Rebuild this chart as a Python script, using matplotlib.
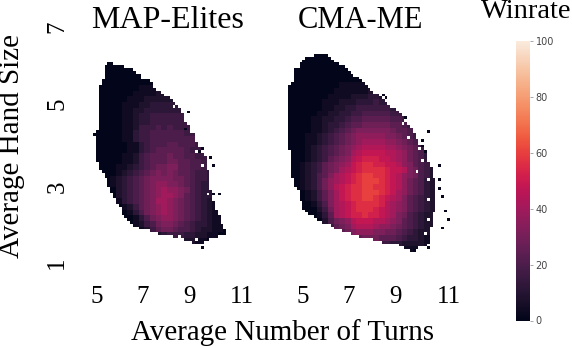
import numpy as np
import matplotlib
matplotlib.use('Agg')
import matplotlib.pyplot as plt
import seaborn as sns

# filled cells per row (first col, end col)
map_left = [5,4,4,4,4,4,3,3,2,2,2,2,2,2,2,2,2,2,2,2,2,2,2,2,1,0,1,1,1,1,1,1,1,1,1,2,2,2,3,4,4,5,5,5,6,6,7,7,8,8,9,9,10,10,11,12,13,14,16,20,23,28,32,35]
map_right = [7,11,14,15,17,17,20,21,21,22,24,25,27,28,29,30,31,31,32,32,32,33,34,34,34,36,36,36,37,37,38,38,39,40,40,40,40,40,41,41,41,41,41,41,41,42,42,42,42,43,43,43,44,44,45,45,45,46,46,47,47,44,41,39]
cma_left = [9,6,5,4,4,2,2,2,2,2,1,0,0,0,0,0,0,0,0,0,0,0,0,0,0,0,0,0,0,0,0,0,0,0,1,1,1,1,1,1,1,1,1,1,2,2,2,3,4,4,4,4,5,5,5,6,7,9,10,12,15,16,19,22,25,30,33,39,41,43]
cma_right = [14,15,16,18,20,21,22,23,25,26,27,28,29,30,32,33,34,35,36,38,39,40,41,41,42,43,44,44,45,45,46,46,47,48,48,49,49,49,50,50,51,51,51,51,52,52,52,52,52,52,52,52,52,52,52,52,51,51,51,51,51,50,50,50,50,50,50,49,46,44]

# isolated cells outside the main blob, and gaps inside it (row, col)
map_strays = [(17,33),(23,32),(31,37),(30,38),(33,41),(36,42),(46,44),(46,42),(60,46),(62,40),(65,38)]
map_holes = [(15,28),(31,36),(36,38),(46,40),(51,9),(60,22),(62,36),(61,30)]
cma_strays = [(15,34),(14,33),(22,41),(27,49),(30,47),(32,47),(34,48),(39,53),(44,53),(47,53),(50,54),(55,55),(58,56),(61,54),(68,49),(69,44)]
cma_holes = [(24,40),(29,42),(33,46),(37,47),(41,45),(44,49),(51,49),(58,49),(63,48),(66,31),(65,24)]

# winrate in steps of 4 (hex digit), one char per 2x2 block of cells
map_levels = [
    "000000000000000000000000",
    "000000000000000000000000",
    "000000000000000000000000",
    "000000000001000000000000",
    "000000001111110000000000",
    "000000011112221100000000",
    "000000111222222211000000",
    "000001112233333221100000",
    "000001122333333322110000",
    "000001123344444433211000",
    "000001123344444443321000",
    "000001124445454444322000",
    "000001134455555544432000",
    "000001134455555555432100",
    "000000113455566555433210",
    "000000113456666654443210",
    "000001124566676655443210",
    "000001124566677665543210",
    "000011234567788665543210",
    "000012345678787665443210",
    "000123456788887765443210",
    "000123456789988765433210",
    "000023456789a99875433210",
    "000023456789aa9865433210",
    "00001345678aa98765432100",
    "000001246789a98765432100",
    "000000135789a98765432100",
    "000000013578998765432110",
    "000000012457887654332110",
    "000000001246776554322110",
    "000000000112344433221100",
    "000000000000011122110000",
]
cma_levels = [
    "00000000000000000000000000000",
    "00000000000000000000000000000",
    "00000000000000000000000000000",
    "00000000000000000000000000000",
    "00000000000000100000000000000",
    "00000000011111111100000000000",
    "00000000111111222211000000000",
    "00000001111222332221000000000",
    "00000011122233343322100000000",
    "00000011223344444433211000000",
    "00000112233445555544322100000",
    "00001122334556666655433211000",
    "00001123345667777766544321000",
    "00001123456788888876654321000",
    "00011234567899999887654321000",
    "0001123456789aaaa998765432100",
    "000123456789abbbbaa9876432100",
    "00012345678abccccbba976532100",
    "00012346789bcdddccba976532100",
    "0012346789acdeeddccb986542100",
    "001234678abcdeeeedccb87542100",
    "00123568abcdeffeedcb987542100",
    "00123579abcdefffedcb976532110",
    "00123579bcdeeffeedcb976532110",
    "00012468acdeefffedca976532110",
    "00012468acdeeffedcba865432110",
    "00001358abcdeeeedba9865432110",
    "00000247abcdeeedcba9865432110",
    "00000136abcddeddcba8754322110",
    "00000025789bcccbba98654322110",
    "00000014678abbba9987654322100",
    "00000003567899988776543221000",
    "00000000234567776665433211000",
    "00000000000234444433222211000",
    "00000000000000001111111100000",
]

turn_labels = ['5', '7', '9', '11']
hand_labels = ['7', '5', '3', '1']
cbar_ticks = [0, 20, 40, 60, 80, 100]


def build_grid(levels, left, right, strays, holes, first_row):
    # 88 rows x 60 cols, NaN where no elite was found
    grid = np.full((88, 60), np.nan)
    for i in range(len(left)):
        for j in range(left[i], right[i]):
            grid[first_row + i, j] = int(levels[i // 2][j // 2], 16) * 4
    for i, j in strays:
        grid[first_row + i, j] = 1
    for i, j in holes:
        grid[first_row + i, j] = np.nan
    return grid


W, H = 572, 348
CELL = 2.83


def px_axes(x0, y0, x1, y1):
    return fig.add_axes([x0 / W, 1 - y1 / H, (x1 - x0) / W, (y1 - y0) / H])


plt.rcParams['font.family'] = ['Liberation Serif', 'DejaVu Serif']
fig = plt.figure(figsize=(W / 100, H / 100), dpi=100)

ax1 = px_axes(93.3, 20, 93.3 + 60 * CELL, 20 + 88 * CELL)
ax2 = px_axes(288.3, 20, 288.3 + 60 * CELL, 20 + 88 * CELL)
cax = px_axes(516, 41, 530, 320.5)

map_grid = build_grid(map_levels, map_left, map_right, map_strays, map_holes, 15)
cma_grid = build_grid(cma_levels, cma_left, cma_right, cma_strays, cma_holes, 12)

cmap = sns.color_palette('rocket', as_cmap=True)
sns.heatmap(map_grid, ax=ax1, cmap=cmap, vmin=0, vmax=100, cbar=False)
sns.heatmap(cma_grid, ax=ax2, cmap=cmap, vmin=0, vmax=100, cbar_ax=cax)

ax1.set_xticks([1.3, 17.6, 33.8, 52.5])
ax2.set_xticks([5.2, 21.4, 37.7, 56.8])
for ax in (ax1, ax2):
    ax.set_xticklabels(turn_labels, rotation=0, fontsize=18)
    ax.tick_params(axis='x', length=0, pad=12)
ax1.set_yticks([2.3, 29.5, 59, 85.9])
ax1.set_yticklabels(hand_labels, rotation=90, va='center', fontsize=18)
ax1.tick_params(axis='y', length=0, pad=18)
ax2.set_yticks([])

cbar = ax2.collections[0].colorbar
cbar.set_ticks(cbar_ticks)
cbar.ax.tick_params(labelsize=7, length=2, width=0.6, color='#999999', labelcolor='#444444', pad=2)
for t in cbar.ax.get_yticklabels():
    t.set_family('DejaVu Sans')

fig.text(168 / W, 1 - 28 / H, 'MAP-Elites', fontsize=23, ha='center', va='baseline')
fig.text(360 / W, 1 - 28 / H, 'CMA-ME', fontsize=22, ha='center', va='baseline')
fig.text(526 / W, 1 - 18.5 / H, 'Winrate', fontsize=20.5, ha='center', va='baseline')
fig.text(282.5 / W, 1 - 340 / H, 'Average Number of Turns', fontsize=20.9, ha='center', va='baseline')
fig.text(12 / W, 1 - 146 / H, 'Average Hand Size', fontsize=21, rotation=90, ha='center', va='center')

fig.savefig('out.png', dpi=100)
